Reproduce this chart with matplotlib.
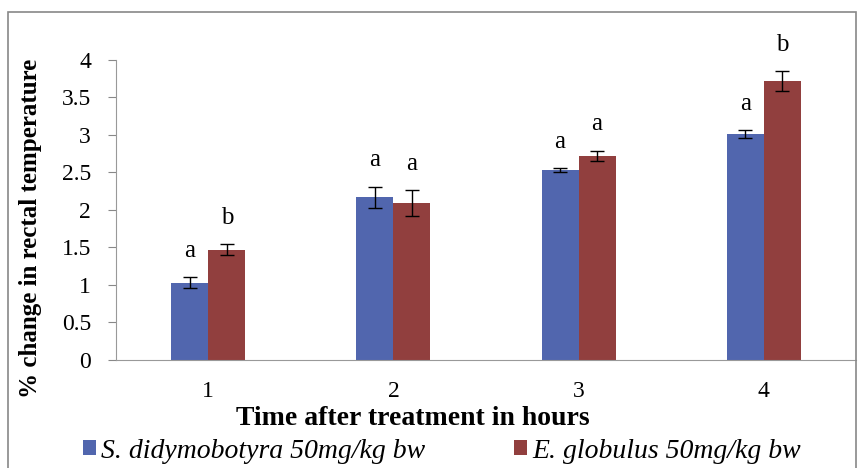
import numpy as np
import matplotlib.pyplot as plt
from matplotlib.patches import Rectangle

hours = ["1", "2", "3", "4"]
sd_mean = [1.03, 2.17, 2.53, 3.01]
sd_err = [0.07, 0.14, 0.03, 0.05]
eg_mean = [1.47, 2.09, 2.72, 3.72]
eg_err = [0.07, 0.17, 0.07, 0.13]
sd_letters = ["a", "a", "a", "a"]
eg_letters = ["b", "a", "a", "b"]

plt.rcParams["font.family"] = ["Liberation Serif", "DejaVu Serif"]

fig = plt.figure(figsize=(8.64, 4.68), dpi=100)
ax = fig.add_axes([0.134, 0.231, 0.857, 0.641])

x = np.arange(len(hours))
w = 0.2
ax.bar(x - w / 2, sd_mean, w, color="#5166AE", label="S. didymobotyra 50mg/kg bw")
ax.bar(x + w / 2, eg_mean, w, color="#913F3E", label="E. globulus 50mg/kg bw")
ax.errorbar(x - w / 2, sd_mean, yerr=sd_err, fmt="none", ecolor="black",
            elinewidth=1, capsize=5, capthick=1)
ax.errorbar(x + w / 2, eg_mean, yerr=eg_err, fmt="none", ecolor="black",
            elinewidth=1, capsize=5, capthick=1)

for i in range(len(hours)):
    ax.text(x[i] - w / 2, sd_mean[i] + sd_err[i] + 0.35, sd_letters[i],
            ha="center", va="center", fontsize=18)
    ax.text(x[i] + w / 2, eg_mean[i] + eg_err[i] + 0.35, eg_letters[i],
            ha="center", va="center", fontsize=18)

ax.set_xlim(-0.5, 3.5)
ax.set_ylim(0, 4)
ax.set_yticks(np.arange(0, 4.01, 0.5))
ax.set_yticklabels(["0", "0.5", "1", "1.5", "2", "2.5", "3", "3.5", "4"])
ax.set_xticks(x)
ax.set_xticklabels(hours)
ax.tick_params(axis="both", labelsize=17, colors="black")
ax.tick_params(axis="x", length=0, pad=15)
ax.tick_params(axis="y", length=5.8, color="#888888", pad=12)
for s in ["top", "right"]:
    ax.spines[s].set_visible(False)
for s in ["left", "bottom"]:
    ax.spines[s].set_color("#999999")

ax.set_ylabel("% change in rectal temperature", fontsize=18, fontweight="bold", va="center")
ax.yaxis.set_label_coords((31 - 116) / 740, (360 - 228) / 300)
ax.set_xlabel("Time after treatment in hours", fontsize=20, fontweight="bold", va="center")
ax.xaxis.set_label_coords((413 - 116) / 740, (360 - 419) / 300)

leg = fig.legend(loc="center", bbox_to_anchor=(442 / 864, 1 - 451 / 468), ncol=2, frameon=False,
                 prop={"size": 20, "style": "italic"}, handlelength=0.45, handleheight=0.45,
                 columnspacing=3.2, handletextpad=0.2)

fig.patches.append(Rectangle((8 / 864, -0.05), 848 / 864, 1 - 12 / 468 + 0.05,
                             transform=fig.transFigure, fill=False,
                             edgecolor="#888888", linewidth=1.2))

fig.savefig("out.png", dpi=100)
